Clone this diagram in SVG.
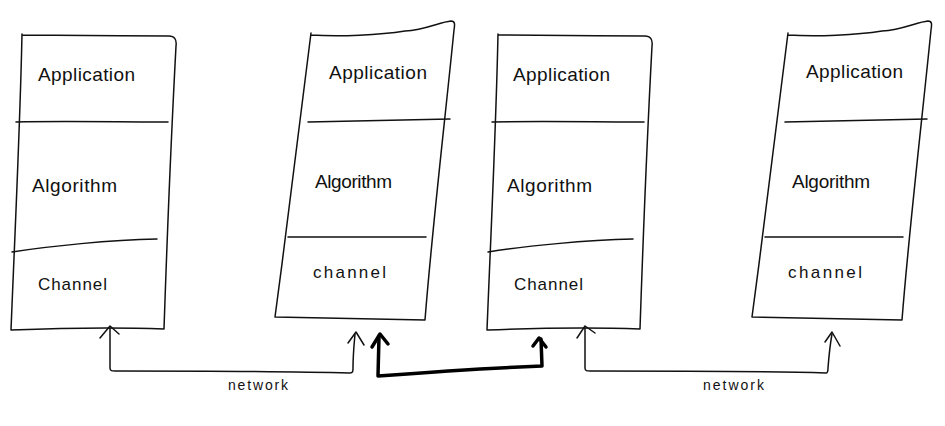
<svg xmlns="http://www.w3.org/2000/svg" width="945" height="426" viewBox="0 0 945 426">
<style>
.ln{fill:none;stroke:#111;stroke-width:1.5;stroke-linecap:round;stroke-linejoin:round}
.bold{fill:none;stroke:#000;stroke-width:3.5;stroke-linecap:round;stroke-linejoin:round}
.t{font-family:"Liberation Sans","Open Sans",sans-serif;fill:#111}
.big{font-size:19px}
.mid{font-size:17px}
.sm{font-size:14px}
</style>
<rect width="945" height="426" fill="#fff"/>
<defs>
<g id="boxA">
<path class="ln" d="M22,34 C20,130 15,230 11,330 C60,328 115,327 164,329 C167,240 171,140 176,46 C177,39 174,36 169,36 C120,36 70,35 22,35"/>
<path class="ln" d="M16,122 C60,121 120,122 168,122"/>
<path class="ln" d="M12,252 C50,246 110,240 157,239"/>
</g>
<g id="boxB">
<path class="ln" d="M311,33 C300,120 288,220 275,317 C330,318 380,319 425,320 C432,230 445,120 454,30 C455,24 455,21 451,21 C440,22 425,30 405,31 C380,35 340,37 311,35"/>
<path class="ln" d="M308,122 C360,121 410,120 450,119"/>
<path class="ln" d="M288,237 C340,237 390,237 426,237"/>
</g>
</defs>
<g id="stack1">
<use href="#boxA"/>
<text class="t big" x="38" y="81" textLength="97">Application</text>
<text class="t big" x="32" y="192" textLength="85">Algorithm</text>
<text class="t mid" x="38" y="290" textLength="69">Channel</text>
</g>
<g id="stack2">
<use href="#boxB"/>
<text class="t big" x="329" y="79" textLength="98">Application</text>
<text class="t big" x="315" y="188" textLength="77">Algorithm</text>
<text class="t mid" x="313" y="278" textLength="73">channel</text>
</g>
<g id="stack3">
<use href="#boxA" transform="translate(476,0)"/>
<text class="t big" x="513" y="81" textLength="97">Application</text>
<text class="t big" x="507" y="192" textLength="85">Algorithm</text>
<text class="t mid" x="514" y="290" textLength="69">Channel</text>
</g>
<g id="stack4">
<use href="#boxB" transform="translate(477,0)"/>
<text class="t big" x="806" y="78" textLength="97">Application</text>
<text class="t big" x="792" y="188" textLength="78">Algorithm</text>
<text class="t mid" x="788" y="278" textLength="74">channel</text>
</g>
<g id="connectors">
<path class="ln" d="M110,328 L110,368 C110,371 112,371 115,371 C200,371 280,371 350,373 C353,373 353,371 353,368 C353,355 354,345 355,334"/>
<path class="ln" d="M100,338 L110,326 L119,334"/>
<path class="ln" d="M348,343 L356,332 L364,345"/>
<path class="bold" d="M379,336 L378,376 C430,372 490,368 542,366 L541,339"/>
<path class="bold" d="M372,347 L380,334 L388,344"/>
<path class="bold" d="M533,346 L539,338 L546,347"/>
<path class="ln" d="M585,328 L585,368 C585,371 587,371 590,371 C680,371 760,371 826,373 C828,373 828,371 828,368 C829,355 830,345 832,334"/>
<path class="ln" d="M577,338 L585,326 L595,333"/>
<path class="ln" d="M825,342 L832,332 L840,346"/>
<text class="t sm" x="228" y="390" textLength="60">network</text>
<text class="t sm" x="703" y="390" textLength="61">network</text>
</g>
</svg>
